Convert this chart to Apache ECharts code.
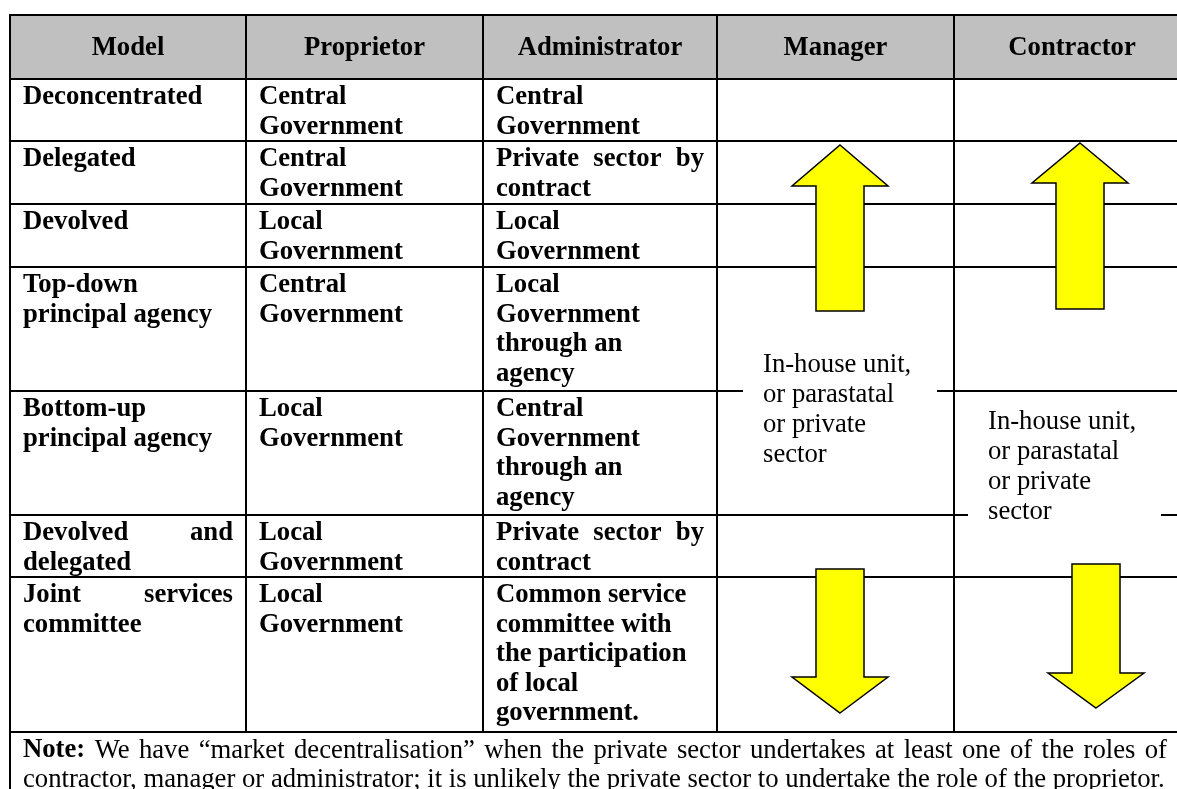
<!DOCTYPE html>
<html>
<head>
<meta charset="utf-8">
<script src="https://cdn.jsdelivr.net/npm/echarts@6/dist/echarts.min.js"></script>
<style>
html,body{margin:0;padding:0;background:#fff;}
#chart{width:1177px;height:789px;}
</style>
</head>
<body>
<div id="chart"></div>
<script>
// ---------- DATA ----------
const headers = ['Model', 'Proprietor', 'Administrator', 'Manager', 'Contractor'];
const models = [
  ['Deconcentrated'],
  ['Delegated'],
  ['Devolved'],
  ['Top-down', 'principal agency'],
  ['Bottom-up', 'principal agency'],
  ['Devolved and', 'delegated'],
  ['Joint services', 'committee']
];
const proprietors = [
  ['Central', 'Government'],
  ['Central', 'Government'],
  ['Local', 'Government'],
  ['Central', 'Government'],
  ['Local', 'Government'],
  ['Local', 'Government'],
  ['Local', 'Government']
];
const administrators = [
  ['Central', 'Government'],
  ['Private sector by', 'contract'],
  ['Local', 'Government'],
  ['Local', 'Government', 'through an', 'agency'],
  ['Central', 'Government', 'through an', 'agency'],
  ['Private sector by', 'contract'],
  ['Common service', 'committee with', 'the participation', 'of local', 'government.']
];
const managerText = ['In-house unit,', 'or parastatal', 'or private', 'sector'];
const contractorText = ['In-house unit,', 'or parastatal', 'or private', 'sector'];
const noteLabel = 'Note:';
const noteLines = [
  'We have \u201cmarket decentralisation\u201d when the private sector undertakes at least one of the roles of',
  'contractor, manager or administrator; it is unlikely the private sector to undertake the role of the proprietor.'
];

// ---------- LAYOUT ----------
const W = 1177, H = 789;
const colEdges = [10, 246, 483, 717, 954, 1190];
const rowEdges = [15, 79, 141, 204, 267, 391, 515, 577, 732, 820];
const FS = 26.7, LH = 29.5, PAD = 13, FIRST = 18.5;
const FAMILY = '"Liberation Serif", "Times New Roman", serif';
const BOLD = 'bold ' + FS + 'px ' + FAMILY;
const REG = FS + 'px ' + FAMILY;
const justify = { model: { 5: [0], 6: [0] }, admin: { 1: [0], 5: [0] } };
const managerBox = { x: 743, y: 345, w: 194, h: 125, tx: 763, ty: 364.5 };
const contractorBox = { x: 968, y: 402, w: 193, h: 140, tx: 988, ty: 422 };
const arrows = [
  { cx: 840, dir: 'up', tip: 145, base: 186, end: 311 },
  { cx: 1080, dir: 'up', tip: 143, base: 183, end: 309 },
  { cx: 840, dir: 'down', tip: 713, base: 677, end: 569 },
  { cx: 1096, dir: 'down', tip: 708, base: 673, end: 564 }
];
const HEAD_HW = 48, SHAFT_HW = 24;

const measureCtx = document.createElement('canvas').getContext('2d');
function textW(t, font) { measureCtx.font = font; return measureCtx.measureText(t).width; }

const chart = echarts.init(document.getElementById('chart'), null, { renderer: 'canvas' });

function renderItem(params, api) {
  const P = (x, y) => api.coord([x, y]);
  const ch = [];
  const line = (x1, y1, x2, y2) => {
    const a = P(x1, y1), b = P(x2, y2);
    ch.push({ type: 'line', shape: { x1: a[0], y1: a[1], x2: b[0], y2: b[1] }, style: { stroke: '#000', lineWidth: 2 } });
  };
  const rect = (x, y, w, h, fill) => {
    const a = P(x, y), b = P(x + w, y + h);
    ch.push({ type: 'rect', shape: { x: a[0], y: a[1], width: b[0] - a[0], height: b[1] - a[1] }, style: { fill: fill } });
  };
  const text = (t, x, y, font, align) => {
    const a = P(x, y);
    ch.push({ type: 'text', style: { text: t, x: a[0], y: a[1], font: font, fill: '#000', align: align || 'left', verticalAlign: 'middle' } });
  };
  const justified = (words, x0, x1, y) => {
    const widths = words.map(w => textW(w.t, w.font));
    const total = widths.reduce((s, v) => s + v, 0);
    const gap = words.length > 1 ? (x1 - x0 - total) / (words.length - 1) : 0;
    let x = x0;
    words.forEach((w, i) => { text(w.t, x, y, w.font); x += widths[i] + gap; });
  };

  // header background
  rect(colEdges[0], rowEdges[0], colEdges[5] - colEdges[0], rowEdges[1] - rowEdges[0], '#c0c0c0');

  // grid lines
  for (let i = 0; i < rowEdges.length - 1; i++) line(colEdges[0] - 1, rowEdges[i], colEdges[5], rowEdges[i]);
  line(colEdges[0], rowEdges[0] - 1, colEdges[0], rowEdges[9]);
  for (let c = 1; c < 5; c++) line(colEdges[c], rowEdges[0] - 1, colEdges[c], rowEdges[8] + 1);

  // header texts
  headers.forEach((h, c) => text(h, (colEdges[c] + colEdges[c + 1]) / 2, (rowEdges[0] + rowEdges[1]) / 2 + 1, BOLD, 'center'));

  // body columns
  const cols = [['model', models], ['prop', proprietors], ['admin', administrators]];
  cols.forEach(([key, arr], c) => {
    arr.forEach((lines, r) => {
      const top = rowEdges[r + 1];
      lines.forEach((ln, k) => {
        const y = top + FIRST + k * LH;
        const x0 = colEdges[c] + PAD, x1 = colEdges[c + 1] - PAD;
        if (justify[key] && justify[key][r] && justify[key][r].indexOf(k) >= 0) {
          justified(ln.split(' ').map(t => ({ t: t, font: BOLD })), x0, x1, y);
        } else {
          text(ln, x0, y, BOLD);
        }
      });
    });
  });

  // text boxes for manager / contractor (white, covering lines)
  rect(managerBox.x, managerBox.y, managerBox.w, managerBox.h, '#fff');
  rect(contractorBox.x, contractorBox.y, contractorBox.w, contractorBox.h, '#fff');
  managerText.forEach((t, k) => text(t, managerBox.tx, managerBox.ty + k * 30, REG));
  contractorText.forEach((t, k) => text(t, contractorBox.tx, contractorBox.ty + k * 30, REG));

  // arrows
  arrows.forEach(a => {
    const pts = [
      [a.cx, a.tip], [a.cx + HEAD_HW, a.base], [a.cx + SHAFT_HW, a.base], [a.cx + SHAFT_HW, a.end],
      [a.cx - SHAFT_HW, a.end], [a.cx - SHAFT_HW, a.base], [a.cx - HEAD_HW, a.base]
    ].map(p => P(p[0], p[1]));
    ch.push({ type: 'polygon', shape: { points: pts }, style: { fill: '#ffff00', stroke: '#000', lineWidth: 1.5, lineJoin: 'miter' } });
  });

  // note row
  const ny = rowEdges[8] + FIRST;
  const nx0 = colEdges[0] + PAD, nx1 = 1167;
  const w1 = [{ t: noteLabel, font: BOLD }].concat(noteLines[0].split(' ').map(t => ({ t: t, font: REG })));
  justified(w1, nx0, nx1, ny);
  text(noteLines[1], nx0, ny + LH, REG);

  return { type: 'group', children: ch };
}

chart.setOption({
  animation: false,
  backgroundColor: '#fff',
  grid: { left: 0, right: 0, top: 0, bottom: 0 },
  xAxis: { type: 'value', min: 0, max: W, show: false },
  yAxis: { type: 'value', min: 0, max: H, inverse: true, show: false },
  series: [{
    type: 'custom',
    renderItem: renderItem,
    data: [[0, 0]],
    clip: false,
    silent: true
  }]
});
</script>
</body>
</html>
